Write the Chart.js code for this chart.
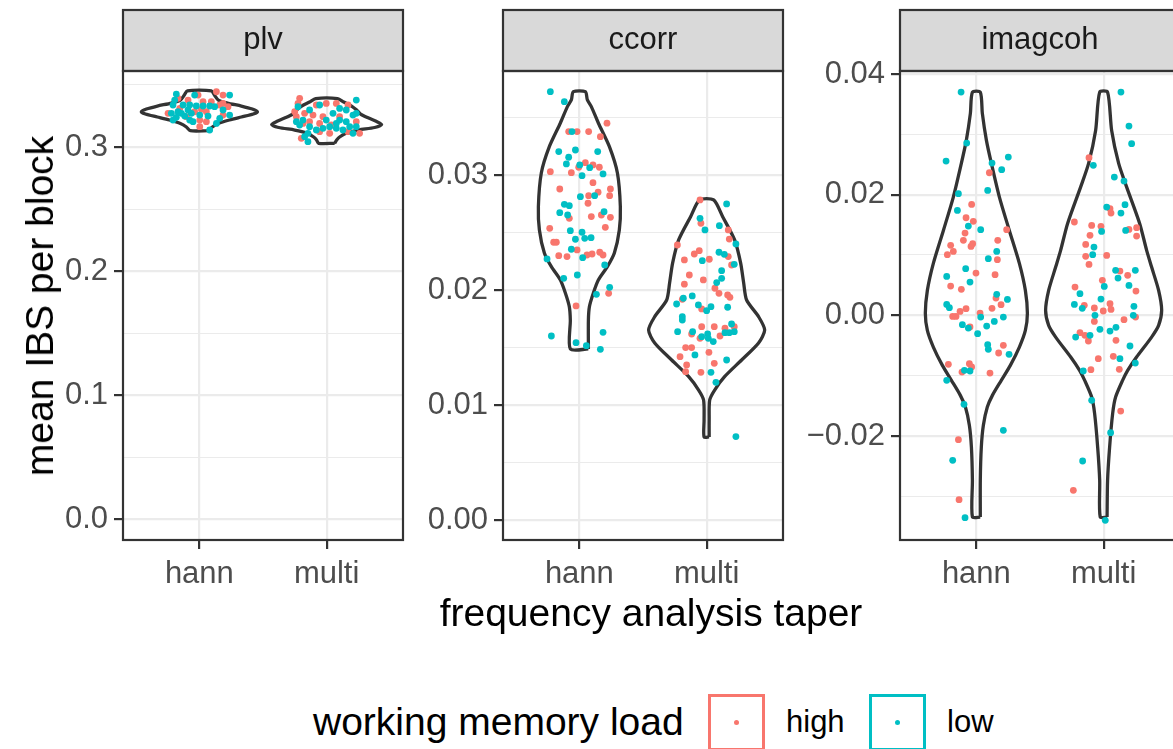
<!DOCTYPE html>
<html>
<head>
<meta charset="utf-8">
<script src="https://cdn.jsdelivr.net/npm/chart.js@4.4.1/dist/chart.umd.min.js"></script>
<style>
  html, body { margin: 0; padding: 0; background: #fff; overflow: hidden; width: 1173px; height: 749px; }
  .panel { position: absolute; top: 0; }
  .txt { position: absolute; font-family: "Liberation Sans", Arial, sans-serif; color: #000; white-space: nowrap; }
  .key { position: absolute; box-sizing: border-box; width: 57px; height: 57px; border: 3px solid; background: #fff; }
  .key span { position: absolute; left: 50%; top: 50%; width: 5px; height: 5px; margin: -2.5px 0 0 -2.5px; border-radius: 50%; }
</style>
</head>
<body>
<div class="panel" style="left:50px"><canvas id="plvChart" width="360" height="600"></canvas></div>
<div class="panel" style="left:420px"><canvas id="ccorrChart" width="370" height="600"></canvas></div>
<div class="panel" style="left:790px"><canvas id="imagChart" width="397" height="600"></canvas></div>

<div class="txt" id="yTitle" style="left:40px;top:306px;font-size:39px;transform:translate(-50%,-50%) rotate(-90deg)">mean IBS per block</div>
<div class="txt" id="xTitle" style="left:651px;top:613px;font-size:39px;transform:translate(-50%,-50%)">frequency analysis taper</div>

<div class="txt" style="left:313px;top:722px;font-size:39px;transform:translateY(-50%)">working memory load</div>
<div class="key" style="left:708px;top:694px;border-color:#F8766D"><span style="background:#F8766D"></span></div>
<div class="txt" style="left:786px;top:722px;font-size:31px;transform:translateY(-50%)">high</div>
<div class="key" style="left:869px;top:694px;border-color:#00BFC4"><span style="background:#00BFC4"></span></div>
<div class="txt" style="left:947px;top:722px;font-size:31px;transform:translateY(-50%)">low</div>

<script>
// ==================== DATA =====================
const taperLabels = ["hann", "multi"];
const loadLabels = ["high", "low"];
const facetNames = ["plv", "ccorr", "imagcoh"];
const loadColors = ["#F8766D", "#00BFC4"];

// y axis ticks per facet (major labelled, minor only gridlines)
const plvTicks = [0, 0.1, 0.2, 0.3];
const plvMinor = [0.05, 0.15, 0.25, 0.35];
const ccorrTicks = [0, 0.01, 0.02, 0.03];
const ccorrMinor = [0.005, 0.015, 0.025, 0.035];
const imagTicks = [-0.02, 0, 0.02, 0.04];
const imagMinor = [-0.03, -0.01, 0.01, 0.03];

// y limits (data range + ggplot expansion)
const plvRange = [-0.0165, 0.3612];
const ccorrRange = [-0.00174, 0.03904];
const imagRange = [-0.03723, 0.0405];

// violin outlines: value levels (top to bottom) and half widths
const plvHannViolinY = [0.34529, 0.34183, 0.33781, 0.3354, 0.33298, 0.33057, 0.3284, 0.32655, 0.32414, 0.32172, 0.31891, 0.31609, 0.31311];
const plvHannViolinW = [0.094, 0.118, 0.149, 0.22, 0.33, 0.416, 0.456, 0.424, 0.33, 0.236, 0.149, 0.102, 0.071];
const plvMultiViolinY = [0.33902, 0.3362, 0.33298, 0.32977, 0.32655, 0.32333, 0.32052, 0.3181, 0.31569, 0.31368, 0.31126, 0.30805, 0.30563, 0.30298];
const plvMultiViolinW = [0.086, 0.134, 0.196, 0.236, 0.267, 0.33, 0.393, 0.432, 0.377, 0.251, 0.157, 0.102, 0.079, 0.063];
const ccorrHannViolinY = [0.03724, 0.03652, 0.03594, 0.03452, 0.03246, 0.03017, 0.02724, 0.02522, 0.02322, 0.02203, 0.02087, 0.01974, 0.01855, 0.01739, 0.01487];
const ccorrHannViolinW = [0.047, 0.063, 0.094, 0.149, 0.236, 0.299, 0.322, 0.314, 0.275, 0.22, 0.149, 0.11, 0.079, 0.071, 0.071];
const ccorrMultiViolinY = [0.02783, 0.02637, 0.02435, 0.02235, 0.02061, 0.01913, 0.01768, 0.01652, 0.01539, 0.01391, 0.01246, 0.0113, 0.01043, 0.0087, 0.00722];
const ccorrMultiViolinW = [0.055, 0.126, 0.22, 0.267, 0.291, 0.314, 0.408, 0.456, 0.408, 0.275, 0.141, 0.063, 0.024, 0.02, 0.02];
const imagHannViolinY = [0.037, 0.03347, 0.029, 0.02519, 0.0196, 0.01408, 0.00862, 0.00414, 0.00033, -0.00249, -0.00525, -0.00829, -0.01077, -0.01326, -0.01519, -0.01822, -0.02182, -0.02734, -0.03342];
const imagHannViolinW = [0.031, 0.047, 0.079, 0.118, 0.181, 0.259, 0.338, 0.385, 0.401, 0.385, 0.338, 0.267, 0.196, 0.126, 0.086, 0.055, 0.039, 0.031, 0.031];
const imagMultiViolinY = [0.037, 0.03065, 0.02519, 0.02126, 0.01524, 0.01077, 0.008, 0.00414, 0.00083, -0.00166, -0.0036, -0.00691, -0.00911, -0.01077, -0.01354, -0.01624, -0.02182, -0.02734, -0.03342];
const imagMultiViolinW = [0.031, 0.063, 0.118, 0.181, 0.283, 0.338, 0.377, 0.432, 0.456, 0.432, 0.377, 0.259, 0.189, 0.149, 0.094, 0.071, 0.047, 0.031, 0.027];

// jittered points: [jitter offset, value]
const plvHannHigh = [[0.134,0.3445],[-0.01,0.3418],[0.186,0.3418],[-0.168,0.3392],[-0.089,0.3378],[0.029,0.3365],[0.094,0.3365],[0.186,0.3351],[0.16,0.3338],[0.225,0.3325],[-0.246,0.3271],[-0.037,0.3284],[0.055,0.3284],[-0.102,0.3244],[0.003,0.3217],[0.055,0.3204],[0.003,0.3164],[-0.154,0.3311],[0.186,0.3257],[0.016,0.3303]];
const plvHannLow = [[-0.181,0.3426],[-0.037,0.3418],[0.238,0.3418],[-0.194,0.3378],[-0.207,0.3338],[-0.128,0.3338],[-0.076,0.3338],[-0.024,0.333],[0.029,0.333],[0.081,0.333],[0.12,0.3325],[-0.089,0.3298],[-0.168,0.3284],[-0.22,0.3271],[-0.141,0.3271],[-0.063,0.3271],[0.003,0.3257],[0.068,0.3249],[0.238,0.3257],[-0.181,0.3239],[-0.076,0.3217],[-0.05,0.3204],[0.16,0.3231],[0.134,0.319],[0.081,0.3137],[-0.207,0.3217],[-0.115,0.3249],[0.186,0.3298]];
const plvMultiHigh = [[-0.212,0.3392],[-0.225,0.3351],[-0.081,0.3338],[-0.003,0.3351],[0.076,0.3351],[0.168,0.3338],[-0.251,0.3284],[-0.173,0.3271],[-0.107,0.3257],[-0.029,0.3244],[-0.186,0.319],[-0.134,0.3204],[-0.055,0.319],[0.037,0.3177],[0.102,0.3244],[0.024,0.311],[0.233,0.3204],[0.259,0.311],[-0.199,0.307],[-0.055,0.3123],[0.168,0.3123],[-0.238,0.3244]];
const plvMultiLow = [[-0.225,0.3325],[0.233,0.3378],[-0.134,0.3298],[-0.055,0.3338],[0.05,0.3271],[0.102,0.3311],[0.154,0.3298],[0.207,0.3257],[0.233,0.3271],[-0.238,0.3204],[-0.186,0.3217],[-0.134,0.3164],[-0.081,0.3137],[-0.029,0.315],[0.024,0.3164],[0.076,0.315],[0.128,0.3137],[0.181,0.3164],[0.233,0.3164],[-0.147,0.311],[-0.212,0.3177],[0.102,0.3217],[0.154,0.3204],[0.076,0.319],[-0.003,0.3217],[-0.147,0.3043],[0.207,0.311],[-0.173,0.3083]];

const ccorrHannHigh = [[0.217,0.0345],[-0.084,0.03377],[-0.018,0.03377],[0.073,0.03377],[0.165,0.03333],[0.047,0.03107],[0.107,0.03087],[0.157,0.03067],[-0.005,0.03067],[-0.228,0.03029],[-0.063,0.0302],[0.107,0.02933],[-0.154,0.02878],[0.244,0.02878],[0.147,0.0285],[0.238,0.0282],[0.073,0.0282],[0.068,0.02754],[-0.079,0.02623],[0.094,0.02638],[0.173,0.02652],[0.244,0.02632],[-0.233,0.02536],[0.204,0.02545],[-0.202,0.02415],[-0.181,0.02415],[-0.018,0.02348],[-0.162,0.02298],[-0.097,0.0229],[0.06,0.02304],[0.1,0.02313],[0.16,0.02328],[0.186,0.02304],[0.23,0.01971],[-0.026,0.01861]];
const ccorrHannLow = [[-0.228,0.03724],[-0.118,0.03637],[-0.058,0.03377],[-0.162,0.03203],[-0.031,0.03217],[0.144,0.03203],[-0.084,0.03154],[-0.102,0.03096],[0.003,0.03087],[0.081,0.03063],[0.021,0.02994],[0.186,0.03009],[0.008,0.02811],[0.12,0.0282],[-0.118,0.02745],[-0.079,0.02733],[-0.154,0.02672],[-0.092,0.02652],[0.194,0.02681],[-0.071,0.02516],[0.021,0.02502],[-0.031,0.02441],[0.042,0.02449],[0.092,0.02455],[-0.063,0.02354],[0.026,0.02281],[-0.254,0.0227],[0.199,0.02217],[-0.123,0.02101],[-0.016,0.0213],[0.238,0.02023],[0.134,0.01962],[-0.22,0.016],[0.186,0.01632],[-0.026,0.01542],[0.055,0.01516],[0.165,0.01484]];
const ccorrMultiHigh = [[-0.052,0.02783],[-0.045,0.0258],[0.17,0.02522],[0.178,0.02443],[-0.23,0.02391],[-0.097,0.02313],[-0.058,0.02342],[-0.175,0.02261],[0.021,0.02267],[0.17,0.0229],[0.196,0.02217],[-0.136,0.0213],[-0.026,0.02087],[-0.175,0.0205],[0.065,0.02015],[0.097,0.01971],[0.165,0.01957],[0.183,0.01936],[-0.191,0.01919],[-0.039,0.01835],[-0.039,0.01681],[0.06,0.01681],[0.144,0.01667],[0.217,0.01681],[-0.118,0.01617],[-0.052,0.0158],[0.105,0.016],[-0.165,0.01499],[-0.118,0.01499],[0.018,0.01458],[-0.209,0.0142],[-0.157,0.01348],[0.06,0.01362],[-0.165,0.0129],[-0.045,0.01284]];
const ccorrMultiLow = [[0.157,0.02748],[-0.052,0.02623],[0.1,0.02559],[-0.013,0.02522],[0.23,0.024],[0.097,0.02328],[0.139,0.0231],[-0.034,0.02255],[0.217,0.02223],[0.118,0.02168],[0.118,0.02101],[0.079,0.02064],[-0.113,0.01948],[-0.183,0.01928],[-0.236,0.01878],[-0.065,0.0187],[0.034,0.01855],[0,0.0182],[0.165,0.0185],[-0.191,0.01768],[-0.191,0.01739],[0.196,0.01704],[-0.228,0.01637],[-0.11,0.01637],[-0.039,0.01594],[0.008,0.01617],[0.013,0.0158],[0.052,0.01551],[0.144,0.01629],[0.178,0.01629],[0.217,0.01637],[-0.092,0.01435],[0.157,0.01391],[0.034,0.01284],[0.073,0.01197],[0.23,0.00725]];

const imagHannHigh = [[0.102,0.02364],[-0.037,0.01839],[-0.081,0.01618],[-0.024,0.01558],[-0.089,0.01364],[0.238,0.0142],[-0.102,0.01243],[0.168,0.01243],[-0.202,0.0116],[-0.029,0.01188],[-0.042,0.01143],[-0.181,0.0106],[-0.228,0.01006],[0.165,0.00923],[-0.003,0.00701],[0.147,0.00674],[-0.202,0.00486],[-0.118,0.00431],[0.154,0.00287],[0.194,0.00177],[0.123,0.00116],[-0.081,0.00111],[-0.128,0.00066],[-0.186,-0.00017],[-0.16,-0.00017],[0.029,0.00038],[-0.05,-0.00193],[0.212,-0.00497],[0.175,-0.00624],[-0.22,-0.00812],[-0.055,-0.008],[-0.037,-0.00856],[-0.113,-0.0094],[0.107,-0.00956],[-0.141,-0.0206],[-0.136,-0.03054]];
const imagHannLow = [[-0.12,0.037],[-0.076,0.02855],[-0.238,0.02557],[0.123,0.02524],[0.199,0.02414],[0.251,0.02623],[0.089,0.02071],[-0.141,0.02017],[-0.149,0.0174],[-0.063,0.0148],[0.034,0.0142],[0.16,0.0106],[0.094,0.0094],[-0.084,0.00774],[-0.233,0.00646],[-0.05,0.00552],[0.16,0.00348],[0.244,0.00265],[-0.233,0.00182],[-0.212,0.00127],[0.034,-0.00028],[0.212,-0.00028],[0.141,-0.001],[-0.11,-0.00155],[-0.063,-0.0021],[0.081,-0.00177],[0.01,-0.00304],[0.089,-0.00486],[0.094,-0.00563],[0.257,-0.00646],[-0.094,-0.00911],[-0.05,-0.00922],[-0.233,-0.01077],[-0.097,-0.01475],[0.212,-0.01906],[-0.186,-0.02403],[-0.089,-0.03353]];
const imagMultiHigh = [[-0.115,0.02612],[0.05,0.01767],[0.058,0.01695],[-0.23,0.01547],[-0.094,0.01491],[-0.021,0.01475],[0.199,0.01425],[0.259,0.01453],[-0.107,0.01326],[0.259,0.01314],[-0.141,0.01176],[-0.141,0.00978],[0.024,0.00994],[-0.115,0.00845],[0.128,0.00734],[0.189,0.00663],[-0.01,0.0058],[-0.225,0.00469],[0.254,0.00403],[0.05,0.00193],[-0.152,0.00166],[-0.073,0.00122],[0.058,0.00099],[-0.003,0.00072],[-0.073,-0.001],[0.16,-0.00072],[0.251,-0.00028],[-0.186,-0.00287],[-0.147,-0.00331],[-0.12,-0.00425],[0.097,-0.00414],[-0.042,-0.00718],[0.076,-0.00679],[-0.1,-0.009],[0.123,-0.00895],[0.134,-0.01586],[-0.238,-0.029]];
const imagMultiLow = [[0.136,0.037],[0.199,0.03137],[0.22,0.02845],[-0.081,0.02486],[0.084,0.02292],[0.16,0.02225],[0.024,0.01795],[0.168,0.01834],[0.136,0.01695],[-0.016,0.01392],[0.173,0.01408],[-0.076,0.01132],[-0.086,0.01006],[0.094,0.00746],[0.249,0.00746],[0.113,0.00618],[0.199,0.00497],[0.005,0.0048],[-0.186,0.0036],[-0.021,0.0027],[-0.23,0.00182],[-0.168,0.00116],[0.238,0.00149],[-0.068,0],[0.233,0],[0.097,-0.00199],[-0.029,-0.00232],[0.05,-0.0026],[-0.107,-0.00331],[-0.22,-0.0036],[0.207,-0.00508],[0.128,-0.00718],[0.249,-0.0079],[-0.16,-0.00922],[-0.094,-0.01408],[0.055,-0.01944],[-0.165,-0.02414],[0.013,-0.03397]];

// ================ HELPERS ==================
const FONT = "'Liberation Sans', Arial, Helvetica, sans-serif";

function violinOutline(center, ys, ws) {
  const pts = [];
  for (let i = ys.length - 1; i >= 0; i--) pts.push({ x: center + ws[i], y: ys[i] });
  for (let i = 0; i < ys.length; i++) pts.push({ x: center - ws[i], y: ys[i] });
  pts.push({ x: center + ws[ys.length - 1], y: ys[ys.length - 1] });
  return pts;
}

function jitterPoints(center, pairs) {
  return pairs.map((p) => ({ x: center + p[0], y: p[1] }));
}

function fmtTick(v, dec) {
  const s = Math.abs(v).toFixed(dec);
  return v < -1e-9 ? "\u2212" + s : s;
}

// strip on top + panel border (theme_bw look)
const facetPlugin = {
  id: "facet",
  afterDraw(chart, args, opts) {
    const { ctx, chartArea: a } = chart;
    const stripTop = 10;
    ctx.save();
    ctx.fillStyle = "#D9D9D9";
    ctx.fillRect(a.left, stripTop, a.right - a.left, a.top - stripTop);
    ctx.strokeStyle = "#333333";
    ctx.lineWidth = 2.2;
    ctx.strokeRect(a.left, stripTop, a.right - a.left, a.top - stripTop);
    ctx.strokeRect(a.left, a.top, a.right - a.left, a.bottom - a.top);
    ctx.fillStyle = "#1A1A1A";
    ctx.font = "31px " + FONT;
    ctx.textAlign = "center";
    ctx.textBaseline = "middle";
    ctx.fillText(opts.name, (a.left + a.right) / 2, (stripTop + a.top) / 2);
    ctx.restore();
  },
};

// ============== RENDER PANEL ===============
function renderPanel(canvasId, name, range, major, minor, dec, axisW, violins, groups) {
  const allTicks = major.concat(minor).sort((a, b) => a - b);
  const isMajor = (v) => major.some((m) => Math.abs(m - v) < 1e-9);

  const datasets = [];
  groups.forEach((g) => {
    datasets.push({
      label: loadLabels[g.load],
      data: jitterPoints(g.taper + 1, g.points),
      backgroundColor: loadColors[g.load],
      borderWidth: 0,
      pointRadius: 3.4,
      order: g.load === 1 ? 1 : 2,
    });
  });
  violins.forEach((v, i) => {
    datasets.push({
      label: taperLabels[i],
      data: violinOutline(i + 1, v[0], v[1]),
      showLine: true,
      fill: false,
      borderColor: "#333333",
      borderWidth: 3.3,
      pointRadius: 0,
      tension: 0.25,
      order: 10,
    });
  });

  return new Chart(document.getElementById(canvasId), {
    type: "scatter",
    data: { datasets },
    plugins: [facetPlugin],
    options: {
      responsive: false,
      animation: false,
      layout: { padding: { top: 71, right: 7, left: 0, bottom: 0 } },
      plugins: {
        legend: { display: false },
        tooltip: { enabled: false },
        facet: { name },
      },
      scales: {
        x: {
          type: "linear",
          min: 0.4,
          max: 2.6,
          afterBuildTicks: (ax) => { ax.ticks = [1, 2].map((v) => ({ value: v })); },
          afterFit: (ax) => { ax.height = 60; },
          border: { display: false },
          grid: { color: "#EBEBEB", lineWidth: 2.2, tickColor: "#333333", tickWidth: 2.2, tickLength: 9 },
          ticks: {
            autoSkip: false,
            maxRotation: 0,
            color: "#4D4D4D",
            padding: 7,
            font: { size: 31, family: FONT },
            callback: (v) => taperLabels[Math.round(v) - 1],
          },
        },
        y: {
          type: "linear",
          min: range[0],
          max: range[1],
          afterBuildTicks: (ax) => { ax.ticks = allTicks.map((v) => ({ value: v })); },
          afterFit: (ax) => { ax.width = axisW; },
          border: { display: false },
          grid: {
            color: "#EBEBEB",
            lineWidth: (c) => (c.tick && isMajor(c.tick.value) ? 2.2 : 1.1),
            tickColor: (c) => (c.tick && isMajor(c.tick.value) ? "#333333" : "rgba(0,0,0,0)"),
            tickWidth: 2.2,
            tickLength: 9,
          },
          ticks: {
            autoSkip: false,
            color: "#4D4D4D",
            padding: 6,
            font: { size: 31, family: FONT },
            callback: (v) => (isMajor(v) ? fmtTick(v, dec) : ""),
          },
        },
      },
    },
  });
}

// =========== INIT ================
renderPanel("plvChart", facetNames[0], plvRange, plvTicks, plvMinor, 1, 73,
  [[plvHannViolinY, plvHannViolinW], [plvMultiViolinY, plvMultiViolinW]],
  [
    { taper: 0, load: 0, points: plvHannHigh },
    { taper: 0, load: 1, points: plvHannLow },
    { taper: 1, load: 0, points: plvMultiHigh },
    { taper: 1, load: 1, points: plvMultiLow },
  ]);

renderPanel("ccorrChart", facetNames[1], ccorrRange, ccorrTicks, ccorrMinor, 2, 83,
  [[ccorrHannViolinY, ccorrHannViolinW], [ccorrMultiViolinY, ccorrMultiViolinW]],
  [
    { taper: 0, load: 0, points: ccorrHannHigh },
    { taper: 0, load: 1, points: ccorrHannLow },
    { taper: 1, load: 0, points: ccorrMultiHigh },
    { taper: 1, load: 1, points: ccorrMultiLow },
  ]);

renderPanel("imagChart", facetNames[2], imagRange, imagTicks, imagMinor, 2, 110,
  [[imagHannViolinY, imagHannViolinW], [imagMultiViolinY, imagMultiViolinW]],
  [
    { taper: 0, load: 0, points: imagHannHigh },
    { taper: 0, load: 1, points: imagHannLow },
    { taper: 1, load: 0, points: imagMultiHigh },
    { taper: 1, load: 1, points: imagMultiLow },
  ]);
</script>
</body>
</html>
